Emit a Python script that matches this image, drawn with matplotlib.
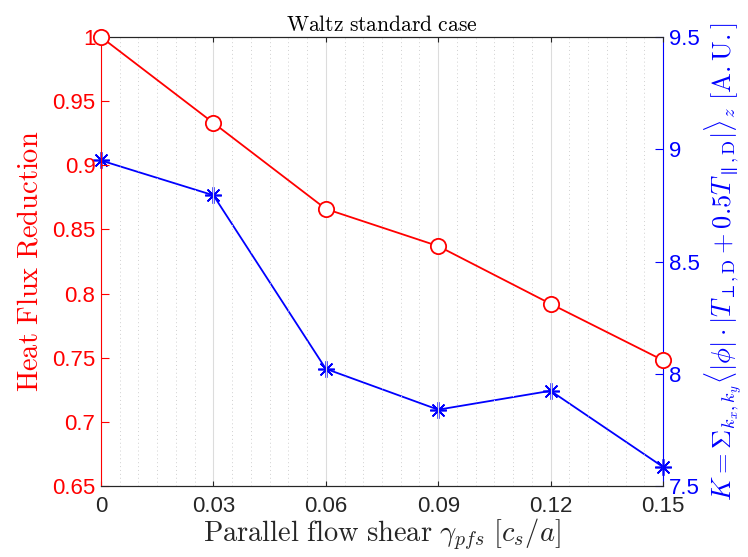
import numpy as np
import matplotlib
matplotlib.use('Agg')
import matplotlib.pyplot as plt
from matplotlib.ticker import MultipleLocator

plt.rcParams['mathtext.fontset'] = 'cm'
plt.rcParams['font.family'] = ['Liberation Sans', 'DejaVu Sans']

# donnees
shear = [0, 0.03, 0.06, 0.09, 0.12, 0.15]
heat_flux_red = [1.0, 0.933, 0.866, 0.837, 0.792, 0.748]
K_values = [8.95, 8.795, 8.022, 7.84, 7.924, 7.585]
xticks = [0, 0.03, 0.06, 0.09, 0.12, 0.15]
xticklabels = ['0', '0.03', '0.06', '0.09', '0.12', '0.15']
left_ticks = [0.65, 0.7, 0.75, 0.8, 0.85, 0.9, 0.95, 1]
left_labels = ['0.65', '0.7', '0.75', '0.8', '0.85', '0.9', '0.95', '1']
right_ticks = [7.5, 8, 8.5, 9, 9.5]
right_labels = ['7.5', '8', '8.5', '9', '9.5']

fig = plt.figure(figsize=(7.48, 5.57), dpi=100)
ax = fig.add_axes([101/748, 1-486/557, 562/748, 449/557])
ax2 = ax.twinx()

ax.set_zorder(ax2.get_zorder() + 1)
ax.patch.set_visible(False)

ax.plot(shear, heat_flux_red, color='red', lw=1.3, marker='o', ms=11,
        mfc='white', mec='red', mew=1.3, clip_on=False, zorder=5)
ax2.plot(shear, K_values, color='blue', lw=1.3, marker=(8, 2, 0), ms=12,
         mfc='blue', mec='blue', mew=1.2, clip_on=False, zorder=5)

ax.set_xlim(0, 0.15)
ax.set_ylim(0.65, 1)
ax2.set_ylim(7.5, 9.5)

ax.set_xticks(xticks)
ax.set_xticklabels(xticklabels)
ax.set_yticks(left_ticks)
ax.set_yticklabels(left_labels)
ax2.set_yticks(right_ticks)
ax2.set_yticklabels(right_labels)
ax.xaxis.set_minor_locator(MultipleLocator(0.005))

# grille
ax.grid(True, which='major', axis='x', color='#dcdcdc', lw=0.8)
ax.grid(True, which='minor', axis='x', color='#d0d0d0', lw=0.7, ls=(0, (1, 3)))

ax.tick_params(axis='x', which='both', direction='in', top=True, colors='#262626',
               labelsize=16, pad=7)
ax.tick_params(axis='x', which='minor', length=0)
ax.tick_params(axis='y', direction='in', colors='red', labelsize=16, length=6, pad=4)
ax2.tick_params(axis='y', direction='in', colors='blue', labelsize=16, length=6, pad=4)

ax.spines['left'].set_color('red')
ax.spines['right'].set_visible(False)
ax2.spines['left'].set_visible(False)
ax2.spines['right'].set_color('blue')
for a in (ax, ax2):
    a.spines['top'].set_color('#262626')
    a.spines['bottom'].set_color('#262626')

ax.set_xlabel(r'$\mathrm{Parallel\ flow\ shear}\ \gamma_{pfs}\ [c_s/a]$',
              fontsize=20.5, color='#262626', labelpad=0)
ax.set_ylabel(r'$\mathrm{Heat\ Flux\ Reduction}$', fontsize=20.5, color='red', labelpad=6)
ax2.set_ylabel(r'$K=\Sigma_{k_x,k_y}\langle|\phi|\cdot|T_{\perp,\mathrm{D}}+0.5T_{\parallel,\mathrm{D}}|\rangle_z\ [\mathrm{A.U.}]$',
               fontsize=19, color='blue', labelpad=2)
ax.set_title(r'$\mathrm{Waltz\ standard\ case}$', fontsize=15.5, color='black', pad=4)

plt.savefig('out.png', dpi=100)
